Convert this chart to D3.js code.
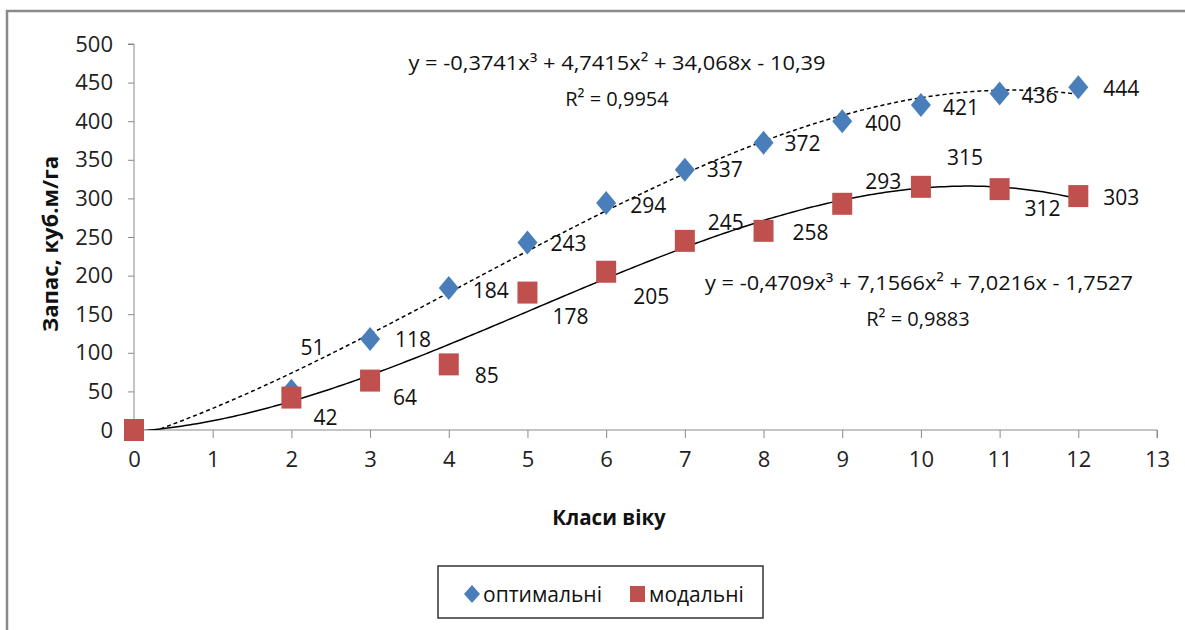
<!DOCTYPE html>
<html>
<head>
<meta charset="utf-8">
<script src="https://cdn.jsdelivr.net/npm/d3@7"></script>
<style>
	body { margin: 0; background: #fff; }
	svg { display: block; font-family: 'Open Sans', sans-serif; }
</style>
</head>
<body>
<svg id="chart" width="1185" height="630"></svg>
<script>
// ------------------------
// Data
// ------------------------
const optAges = [ 2, 3, 4, 5, 6, 7, 8, 9, 10, 11, 12 ];
const optValues = [ 51, 118, 184, 243, 294, 337, 372, 400, 421, 436, 444 ];

const modAges = [ 0, 2, 3, 4, 5, 6, 7, 8, 9, 10, 11, 12 ];
const modValues = [ 0, 42, 64, 85, 178, 205, 245, 258, 293, 315, 312, 303 ];
const modShowLabel = [ false, true, true, true, true, true, true, true, true, true, true, true ];

// trendline coefficients (x^3, x^2, x, 1), as printed on the chart
const optTrend = [ -0.3741, 4.7415, 34.068, -10.39 ];
const modTrend = [ -0.4709, 7.1566, 7.0216, -1.7527 ];
const optEquation = 'y = -0,3741x³ + 4,7415x² + 34,068x - 10,39';
const optR2 = 'R² = 0,9954';
const modEquation = 'y = -0,4709x³ + 7,1566x² + 7,0216x - 1,7527';
const modR2 = 'R² = 0,9883';

const xTicks = d3.range( 0, 14 );
const yTicks = [ 0, 50, 100, 150, 200, 250, 300, 350, 400, 450, 500 ];

const seriesNames = [ 'оптимальні', 'модальні' ];

// ------------------------
// Layout (label nudges are in pixels, [dx, dy] from the marker)
// ------------------------
const optLabelShift = [ [ 9, -43 ], [ 25, 1 ], [ 24, 2 ], [ 23, 1 ], [ 24, 2 ], [ 22, 0 ],
	[ 21, 1 ], [ 23, 2 ], [ 22, 2 ], [ 22, 2 ], [ 25, 1 ] ];
const modLabelShift = [ [ 0, 0 ], [ 22, 20 ], [ 23, 17 ], [ 26, 11 ], [ 25, 24 ], [ 27, 25 ],
	[ 23, -18 ], [ 29, 2 ], [ 23, -22 ], [ 26, -29 ], [ 25, 19 ], [ 25, 1 ] ];

const BLUE = '#4a7ebb';
const RED = '#c0504d';
const AXIS = '#8a8a8a';

const svg = d3.select( '#chart' );
const plot = { left: 134, right: 1157, top: 44, bottom: 430 };

const x = d3.scaleLinear().domain( [ 0, 13 ] ).range( [ plot.left, plot.right ] );
const y = d3.scaleLinear().domain( [ 0, 500 ] ).range( [ plot.bottom, plot.top ] );

// outer chart frame (only top/left edges show in the crop)
svg.append( 'path' )
	.attr( 'd', 'M7,630 L7,11 L1185,11' )
	.attr( 'fill', 'none' )
	.attr( 'stroke', AXIS )
	.attr( 'stroke-width', 2.5 );

svg.append( 'clipPath' )
	.attr( 'id', 'plotClip' )
	.append( 'rect' )
	.attr( 'x', plot.left )
	.attr( 'y', plot.top - 10 )
	.attr( 'width', plot.right - plot.left )
	.attr( 'height', plot.bottom - plot.top + 10 );

renderAxes();
renderTrend( optTrend, '4,3' );
renderTrend( modTrend, null );
renderSeries();
renderTexts();
renderLegend();

function poly( c, v ) {
	return c[ 0 ] * v * v * v + c[ 1 ] * v * v + c[ 2 ] * v + c[ 3 ];
}

function renderAxes() {
	const yAxis = d3.axisLeft( y ).tickValues( yTicks ).tickSize( 6 ).tickPadding( 15 );
	const gy = svg.append( 'g' )
		.attr( 'transform', `translate(${ plot.left },0)` )
		.call( yAxis );
	gy.select( '.domain' ).attr( 'stroke', AXIS ).attr( 'd', `M-6,${ plot.top }H0V${ plot.bottom }` );
	gy.selectAll( 'line' ).attr( 'stroke', AXIS );
	gy.selectAll( 'text' )
		.style( 'font-size', '22px' )
		.style( 'font-family', "'Open Sans', sans-serif" )
		.attr( 'fill', '#222' );

	const xAxis = d3.axisBottom( x ).tickValues( xTicks ).tickSize( 8 ).tickPadding( 13 );
	const gx = svg.append( 'g' )
		.attr( 'transform', `translate(0,${ plot.bottom })` )
		.call( xAxis );
	gx.select( '.domain' ).attr( 'stroke', AXIS ).attr( 'd', `M${ plot.left },0H${ plot.right }V8` );
	gx.selectAll( 'line' ).attr( 'stroke', AXIS );
	gx.selectAll( 'text' )
		.style( 'font-size', '22px' )
		.style( 'font-family', "'Open Sans', sans-serif" )
		.attr( 'fill', '#222' );

	svg.append( 'text' )
		.attr( 'transform', `translate(58,${ ( plot.top + plot.bottom ) / 2 + 7 }) rotate(-90)` )
		.attr( 'text-anchor', 'middle' )
		.style( 'font-size', '22px' )
		.style( 'font-weight', 'bold' )
		.attr( 'fill', '#111' )
		.text( 'Запас, куб.м/га' );

	svg.append( 'text' )
		.attr( 'x', 609 )
		.attr( 'y', 525 )
		.attr( 'text-anchor', 'middle' )
		.style( 'font-size', '20.5px' )
		.style( 'font-weight', 'bold' )
		.attr( 'fill', '#111' )
		.text( 'Класи віку' );
}

function renderTrend( coef, dash ) {
	const pts = d3.range( 0, 12.0001, 0.05 ).map( v => [ v, poly( coef, v ) ] );
	const line = d3.line()
		.x( d => x( d[ 0 ] ) )
		.y( d => y( d[ 1 ] ) )
		.curve( d3.curveLinear );

	svg.append( 'path' )
		.datum( pts )
		.attr( 'clip-path', 'url(#plotClip)' )
		.attr( 'd', line )
		.attr( 'fill', 'none' )
		.attr( 'stroke', '#000' )
		.attr( 'stroke-width', 1.5 )
		.attr( 'stroke-dasharray', dash );
}

function renderSeries() {
	const diamond = 'M0,-12L10,0L0,12L-10,0Z';

	// optimal diamonds first, modal squares drawn over them
	svg.append( 'g' )
		.selectAll( 'path' )
		.data( optAges )
		.join( 'path' )
		.attr( 'd', diamond )
		.attr( 'transform', ( d, i ) => `translate(${ x( d ) },${ y( optValues[ i ] ) })` )
		.attr( 'fill', BLUE );

	svg.append( 'g' )
		.selectAll( 'rect' )
		.data( modAges )
		.join( 'rect' )
		.attr( 'x', d => x( d ) - 10 )
		.attr( 'y', ( d, i ) => y( modValues[ i ] ) - 11 )
		.attr( 'width', 20 )
		.attr( 'height', 22 )
		.attr( 'fill', RED );

	const labels = svg.append( 'g' )
		.style( 'font-size', '21px' )
		.attr( 'fill', '#111' );

	labels.selectAll( 'text.opt' )
		.data( optAges )
		.join( 'text' )
		.attr( 'class', 'opt' )
		.attr( 'x', ( d, i ) => x( d ) + optLabelShift[ i ][ 0 ] )
		.attr( 'y', ( d, i ) => y( optValues[ i ] ) + optLabelShift[ i ][ 1 ] )
		.attr( 'dy', '0.36em' )
		.text( ( d, i ) => optValues[ i ] );

	labels.selectAll( 'text.mod' )
		.data( modAges.filter( ( d, i ) => modShowLabel[ i ] ) )
		.join( 'text' )
		.attr( 'class', 'mod' )
		.each( function ( d ) {
			const i = modAges.indexOf( d );
			d3.select( this )
				.attr( 'x', x( d ) + modLabelShift[ i ][ 0 ] )
				.attr( 'y', y( modValues[ i ] ) + modLabelShift[ i ][ 1 ] )
				.attr( 'dy', '0.36em' )
				.text( modValues[ i ] );
		} );
}

function renderTexts() {
	const eq = [
		{ t: optEquation, x: 617, y: 70, w: 417, s: 20 },
		{ t: optR2, x: 617, y: 106, w: 0, s: 20 },
		{ t: modEquation, x: 919, y: 290, w: 428, s: 20 },
		{ t: modR2, x: 918, y: 326, w: 0, s: 20 },
	];

	svg.append( 'g' )
		.selectAll( 'text' )
		.data( eq )
		.join( 'text' )
		.attr( 'x', d => d.x )
		.attr( 'y', d => d.y )
		.attr( 'text-anchor', 'middle' )
		.style( 'font-size', d => `${ d.s }px` )
		.attr( 'fill', '#111' )
		.each( function ( d ) {
			if ( d.w ) {
				d3.select( this ).attr( 'textLength', d.w ).attr( 'lengthAdjust', 'spacingAndGlyphs' );
			}
		} )
		.text( d => d.t );
}

function renderLegend() {
	const g = svg.append( 'g' );

	g.append( 'rect' )
		.attr( 'x', 438 )
		.attr( 'y', 566 )
		.attr( 'width', 325 )
		.attr( 'height', 52 )
		.attr( 'fill', '#fff' )
		.attr( 'stroke', '#333' )
		.attr( 'stroke-width', 1.5 );

	g.append( 'path' )
		.attr( 'd', 'M0,-9L8,0L0,9L-8,0Z' )
		.attr( 'transform', 'translate(472,594)' )
		.attr( 'fill', BLUE );

	g.append( 'rect' )
		.attr( 'x', 630 )
		.attr( 'y', 586 )
		.attr( 'width', 15 )
		.attr( 'height', 16 )
		.attr( 'fill', RED );

	g.selectAll( 'text' )
		.data( seriesNames )
		.join( 'text' )
		.attr( 'x', ( d, i ) => ( i === 0 ? 483 : 649 ) )
		.attr( 'y', 594 )
		.attr( 'dy', '0.36em' )
		.style( 'font-size', '21px' )
		.attr( 'fill', '#111' )
		.text( d => d );
}
</script>
</body>
</html>
